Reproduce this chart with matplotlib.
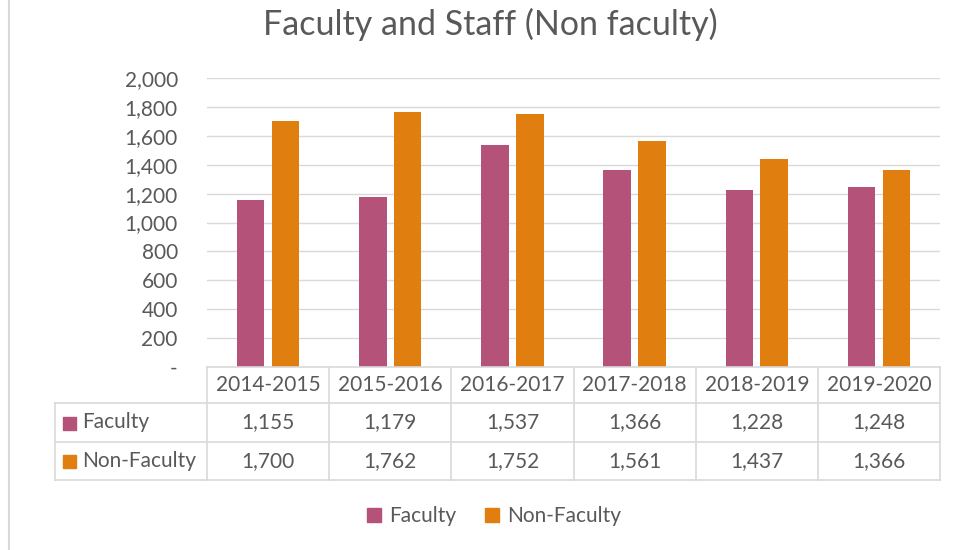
import numpy as np
import matplotlib.pyplot as plt
from matplotlib.patches import Patch, Rectangle
from matplotlib.lines import Line2D
import matplotlib.transforms as mtransforms

years = ['2014-2015', '2015-2016', '2016-2017', '2017-2018', '2018-2019', '2019-2020']
faculty = [1155, 1179, 1537, 1366, 1228, 1248]
non_faculty = [1700, 1762, 1752, 1561, 1437, 1366]
series_names = ['Faculty', 'Non-Faculty']

pink = '#B5527A'
orange = '#E07F10'
text_col = '#595959'
line_col = '#D9D9D9'
fs = 15

plt.rcParams['font.family'] = ['Lato', 'DejaVu Sans']

W, H = 957, 550
fig = plt.figure(figsize=(W / 100, H / 100), dpi=100)

# 坐標軸位置（像素）
left, right, top, bottom = 207, 940, 78, 367
ax = fig.add_axes([left / W, 1 - bottom / H, (right - left) / W, (bottom - top) / H])

x = np.arange(len(years)) + 0.5
bw = 0.225
off = 0.143
ax.bar(x - off, faculty, bw, color=pink)
ax.bar(x + off, non_faculty, bw, color=orange)

ax.set_xlim(0, len(years))
ax.set_ylim(0, 2000)
yt = np.arange(0, 2001, 200)
ax.set_yticks(yt)
ax.set_yticklabels(['-'] + [f'{v:,}' for v in yt[1:]])
ax.tick_params(axis='y', length=0, pad=21, labelsize=fs, labelcolor=text_col)
ax.set_xticks([])
ax.grid(axis='y', color=line_col, linewidth=1)
ax.set_axisbelow(True)
for s in ['top', 'right', 'left']:
    ax.spines[s].set_visible(False)
ax.spines['bottom'].set_color(line_col)
ax.spines['bottom'].set_linewidth(1.2)

# 數據表
trans = mtransforms.blended_transform_factory(ax.transData, ax.transAxes)
ph = bottom - top
rows_px = [367, 403, 442, 480]
rows = [-(r - bottom) / ph for r in rows_px]
x_left = (55 - left) / (right - left) * len(years)

lkw = dict(color=line_col, linewidth=1.2, transform=trans, clip_on=False)
for r in rows[1:]:
    ax.add_line(Line2D([x_left, len(years)], [r, r], **lkw))
for i in range(len(years) + 1):
    ax.add_line(Line2D([i, i], [rows[0], rows[-1]], **lkw))
ax.add_line(Line2D([x_left, x_left], [rows[1], rows[-1]], **lkw))

tkw = dict(transform=trans, ha='center', va='center', fontsize=fs, color=text_col, clip_on=False)
for i, y in enumerate(years):
    ax.text(i + 0.5, (rows[0] + rows[1]) / 2, y, **tkw)
    ax.text(i + 0.5, (rows[1] + rows[2]) / 2, f'{faculty[i]:,}', **tkw)
    ax.text(i + 0.5, (rows[2] + rows[3]) / 2, f'{non_faculty[i]:,}', **tkw)

# 表格左側圖例
for k, (name, c) in enumerate(zip(series_names, [pink, orange])):
    yc = 1 - ((rows_px[k + 1] + rows_px[k + 2]) / 2) / H
    fig.patches.append(Rectangle((63 / W, yc - 7 / H), 13 / W, 13 / H, color=c,
                                 transform=fig.transFigure))
    fig.text(82 / W, yc, name, ha='left', va='center', fontsize=fs, color=text_col)

# 標題
fig.text(490 / W, 1 - 24 / H, 'Faculty and Staff (Non faculty)', ha='center', va='center',
         fontsize=24.5, color=text_col)

# 底部圖例
handles = [Patch(color=pink, label=series_names[0]), Patch(color=orange, label=series_names[1])]
leg = fig.legend(handles=handles, loc='center', bbox_to_anchor=(494 / W, 1 - 516 / H), ncol=2,
                 frameon=False, fontsize=fs, handlelength=0.65, handleheight=0.65,
                 handletextpad=0.4, columnspacing=1.4)
for t in leg.get_texts():
    t.set_color(text_col)

# 左邊框線
fig.add_artist(Line2D([9 / W, 9 / W], [0, 1], color=line_col, linewidth=1.5, transform=fig.transFigure))

plt.savefig('out.png', dpi=100)
plt.close()
